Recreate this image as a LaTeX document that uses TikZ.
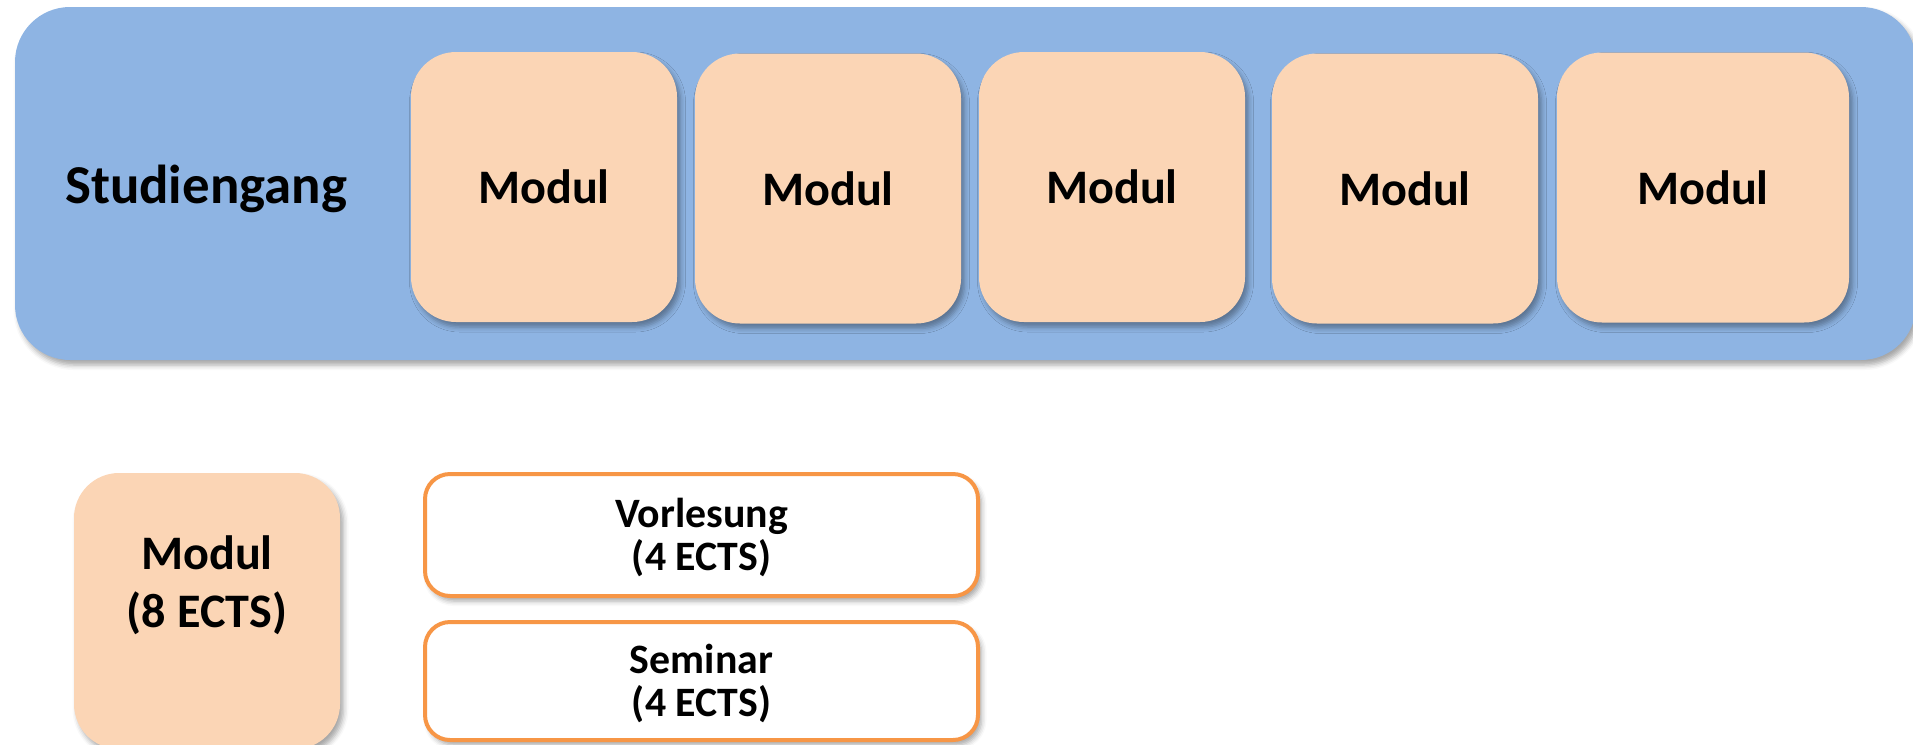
\documentclass[tikz,border=0pt]{standalone}
\usepackage{fontspec}
\setmainfont{Carlito}
\usetikzlibrary{shadows.blur}

\definecolor{studblue}{HTML}{8EB4E3}
\definecolor{modpeach}{HTML}{FBD5B5}
\definecolor{lvorange}{HTML}{F79646}

\tikzset{
  softshadow/.style={blur shadow={shadow xshift=0.35mm, shadow yshift=-0.5mm, shadow blur radius=0.5mm, shadow opacity=35}},
  course/.style={fill=studblue, rounded corners=5.5mm, softshadow},
  modul/.style={fill=modpeach, rounded corners=4.5mm, minimum width=26.6mm, minimum height=27mm, softshadow,
    font=\bfseries\fontsize{13.7}{16.5}\selectfont},
  lvbox/.style={draw=lvorange, line width=0.4mm, fill=white, rounded corners=2.5mm, minimum width=55.3mm, softshadow},
  lvtext/.style={align=center, font=\bfseries\fontsize{11.9}{12.2}\selectfont},
}

\begin{document}
\begin{tikzpicture}[x=0.1mm, y=-0.1mm]
		\useasboundingbox (0,0) rectangle (1913,744);
		% Studiengang with its modules
		\draw (965.5,183.5) node [course, minimum width=190.1mm, minimum height=35.3mm] (sg) {};
		\draw (206,203) node [anchor=base, font=\bfseries\fontsize{15.6}{18}\selectfont] (sgtext) {Studiengang};
		\draw (544,187) node [modul] (m1) {Modul};
		\draw (828,188.5) node [modul] (m2) {Modul};
		\draw (1112,187) node [modul] (m3) {Modul};
		\draw (1405,188.5) node [modul] (m4) {Modul};
		\draw (1703,187.5) node [modul, minimum width=29.2mm] (m5) {Modul};
		% one module split up
		\draw (207,611) node [modul, minimum height=27.6mm] (m8) {};
		\draw (207,585) node [align=center, font=\bfseries\fontsize{13.7}{16.5}\selectfont] (m8text) {Modul\\(8 ECTS)};
		\draw (701.5,535) node [lvbox, minimum height=12.2mm] (vl) {};
		\draw (701.5,681) node [lvbox, minimum height=11.8mm] (sem) {};
		\draw (701.5,570) node [anchor=base, lvtext] (vltext) {Vorlesung\\(4 ECTS)};
		\draw (701.5,716) node [anchor=base, lvtext] (semtext) {Seminar\\(4 ECTS)};
	\end{tikzpicture}
\end{document}
